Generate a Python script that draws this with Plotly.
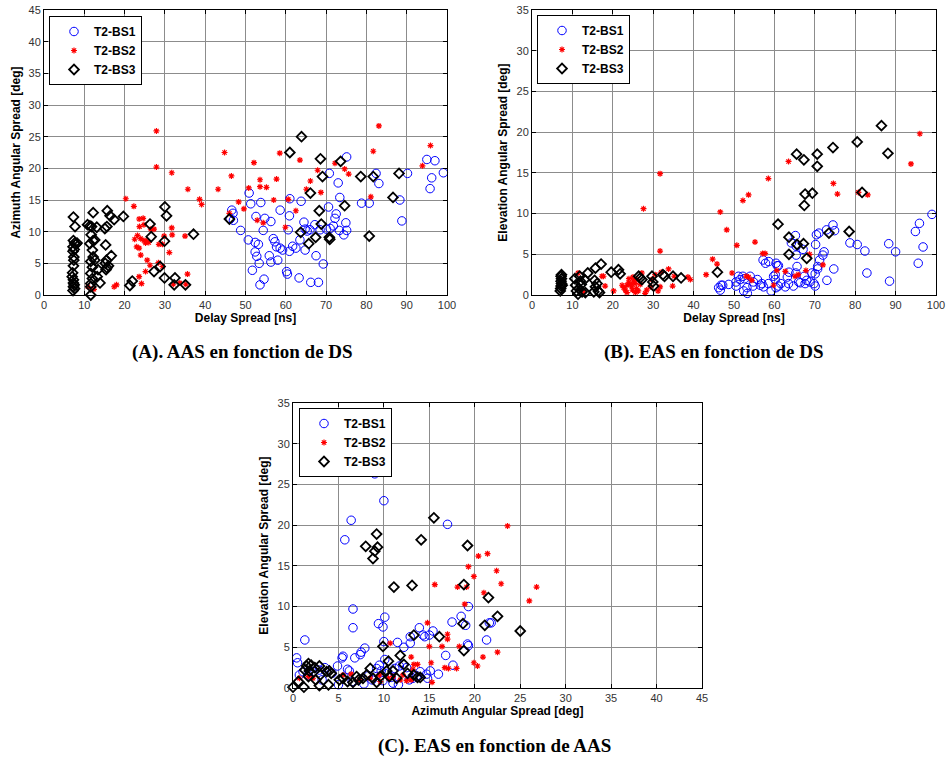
import plotly.graph_objects as go

# ---------------- data ----------------
# Panel A: Delay Spread [ns] vs Azimuth Angular Spread [deg]
a_bs1_ds = [46.2, 46.6, 46.9, 47.0, 48.8, 50.9, 51.3, 53.8, 52.6, 54.8, 56.3, 54.4, 50.7, 52.4, 53.2, 52.4,
            52.8, 53.4, 51.7, 54.6, 53.6, 56.9, 57.3, 57.7, 58.6, 59.2, 55.9, 56.3, 58.0, 58.6, 61.0, 60.9,
            60.6, 60.9, 60.2, 60.4, 61.7, 62.5, 63.5, 63.8, 63.3, 64.5, 64.8, 66.0, 67.2, 68.5, 70.1, 71.0,
            71.8, 72.2, 72.5, 70.6, 70.8, 73.0, 73.4, 75.1, 74.9, 75.1, 74.4, 73.3, 67.5, 66.2, 68.1, 69.3,
            64.8, 65.3, 78.8, 80.7, 82.4, 83.1, 88.3, 88.8, 90.2, 95.0, 97.0, 96.2, 95.8, 99.1]
a_bs1_aas = [12.0, 13.4, 12.9, 11.8, 10.2, 16.1, 14.4, 14.6, 12.4, 12.1, 11.6, 10.2, 8.7, 8.3, 8.0, 6.8,
             6.1, 5.0, 3.9, 2.5, 1.6, 8.9, 8.4, 7.6, 7.4, 7.1, 6.2, 5.2, 5.5, 13.4, 15.2, 12.5,
             10.3, 6.9, 3.7, 3.3, 7.7, 7.4, 8.7, 14.8, 2.7, 11.5, 10.4, 10.3, 11.1, 10.3, 10.4, 10.5,
             10.9, 12.1, 12.8, 13.9, 19.2, 17.7, 15.4, 21.8, 11.4, 10.2, 9.5, 10.2, 6.2, 2.0, 2.0, 4.9,
             7.1, 10.1, 14.5, 14.5, 19.2, 17.6, 15.0, 11.7, 19.2, 21.4, 21.2, 18.5, 16.8, 19.3]

a_bs2_ds = [27.9, 27.9, 31.7, 35.7, 38.6, 39.1, 43.2, 44.8, 46.5, 20.3, 22.3, 23.6, 24.6, 23.7, 24.8, 26.5,
            27.3, 23.2, 22.5, 24.0, 24.8, 25.4, 26.0, 25.2, 28.5, 29.4, 29.8, 31.7, 31.8, 35.0, 23.0, 23.6,
            24.0, 31.1, 25.6, 26.3, 28.4, 25.2, 23.6, 24.2, 29.4, 35.6, 32.1, 33.7, 35.2, 10.9, 12.4, 17.4,
            18.0, 46.0, 48.3, 49.6, 50.8, 52.1, 53.6, 53.6, 55.2, 52.9, 54.4, 57.0, 57.7, 58.5, 59.9, 60.6,
            62.5, 63.5, 65.1, 66.1, 67.9, 68.7, 72.2, 74.6, 75.6, 81.1, 81.7, 83.1, 93.9, 95.9]
a_bs2_aas = [25.9, 20.2, 19.3, 16.7, 15.1, 14.3, 16.7, 22.5, 18.8, 15.2, 14.0, 12.0, 12.1, 10.8, 11.1, 10.4,
             10.4, 9.4, 8.8, 8.9, 8.6, 8.5, 8.3, 8.2, 8.0, 8.0, 9.3, 10.6, 9.5, 9.3, 7.6, 7.4,
             6.3, 6.7, 5.5, 4.7, 5.1, 3.7, 2.9, 1.8, 4.5, 3.3, 1.7, 1.9, 1.7, 1.3, 0.9, 1.3,
             1.6, 12.9, 14.7, 13.6, 16.9, 20.9, 18.2, 17.1, 17.0, 11.8, 11.4, 15.0, 18.3, 22.4, 10.7, 15.1,
             13.3, 21.3, 16.7, 18.0, 19.7, 16.2, 20.8, 19.9, 19.1, 15.5, 22.7, 26.7, 20.4, 23.6]

a_bs3_ds = [7.3, 7.7, 7.3, 7.6, 7.9, 8.2, 7.2, 7.5, 7.2, 7.4, 7.3, 7.0, 7.3, 7.3, 7.5, 7.3, 7.6, 7.2, 7.4, 7.1,
            10.8, 12.2, 11.8, 13.1, 11.7, 12.2, 12.6, 11.4, 12.0, 12.2, 11.6, 12.0, 13.4, 11.6, 13.2, 12.0,
            13.9, 11.6, 11.6, 11.6, 11.4, 12.6, 15.7, 16.4, 17.4, 15.6, 15.1, 15.3, 16.7, 15.5, 15.2, 15.6,
            16.0, 15.4, 19.7, 21.3, 21.9, 26.3, 26.6, 27.3, 28.8, 30.0, 30.4, 29.9, 29.9, 32.5, 32.3, 35.1,
            37.1, 46.0, 61.0, 63.9, 66.1, 68.3, 68.6, 69.1, 68.8, 63.7, 65.7, 67.4, 70.8, 70.9, 73.6, 74.6,
            78.6, 81.7, 80.7, 86.6, 88.1]
a_bs3_aas = [12.3, 10.8, 8.6, 8.2, 8.0, 8.2, 7.6, 7.2, 6.9, 6.0, 4.6, 2.9, 2.4, 1.9, 1.6, 1.3, 1.0, 0.7, 5.5, 3.5,
             11.1, 13.0, 10.8, 10.7, 9.5, 8.6, 8.7, 8.1, 7.1, 6.0, 5.3, 4.4, 4.0, 3.4, 2.9, 2.6,
             1.9, 1.8, 1.3, 0.0, 10.9, 5.5, 13.3, 12.5, 11.9, 10.8, 10.5, 7.9, 6.2, 5.5, 5.0, 4.3,
             4.6, 4.0, 12.4, 1.5, 2.2, 11.2, 9.2, 3.7, 4.5, 13.9, 12.5, 8.5, 2.7, 2.7, 1.6, 1.6,
             9.6, 12.0, 22.5, 25.0, 16.1, 13.3, 21.5, 18.7, 11.2, 9.9, 8.1, 9.1, 9.1, 8.8, 21.1, 14.1,
             18.7, 18.7, 9.3, 15.4, 19.2]

# Panel B: Delay Spread [ns] vs Elevation Angular Spread [deg]
b_bs1_ds = [99.0, 95.9, 94.9, 96.8, 95.6, 90.0, 88.3, 88.5, 82.4, 82.9, 80.5, 78.7, 74.5, 74.9, 72.9, 71.0,
            70.4, 70.2, 72.0, 72.3, 71.2, 74.7, 73.0, 65.2, 64.2, 65.4, 67.1, 65.4, 65.6, 60.7, 57.2, 57.8,
            58.6, 63.6, 70.7, 69.3, 46.2, 46.6, 46.8, 47.2, 48.7, 50.5, 51.1, 51.5, 52.2, 52.6, 50.5, 52.4,
            53.2, 53.3, 54.0, 54.7, 54.8, 55.8, 56.5, 56.9, 57.3, 58.5, 59.2, 59.8, 60.2, 60.4, 61.0, 61.6,
            62.7, 63.2, 63.5, 64.7, 65.3, 66.0, 66.4, 67.4, 67.6, 68.0, 68.8, 69.8, 70.1, 70.1, 70.7, 60.4,
            61.0, 60.2]
b_bs1_eas = [9.9, 8.8, 7.8, 5.9, 3.9, 5.3, 6.3, 1.7, 5.4, 2.7, 6.2, 6.4, 8.6, 7.9, 8.0, 7.6,
             7.4, 6.2, 4.9, 5.3, 4.3, 3.2, 1.8, 7.3, 6.4, 6.0, 5.6, 4.9, 3.5, 3.6, 4.3, 3.9,
             4.1, 2.8, 3.5, 2.7, 0.9, 0.6, 1.2, 1.2, 1.3, 1.6, 2.3, 1.9, 2.3, 2.0, 1.1, 0.5,
             0.9, 0.2, 2.3, 1.1, 1.6, 1.9, 1.2, 1.4, 1.0, 1.4, 0.5, 2.3, 1.9, 0.9, 1.1, 1.4,
             1.0, 2.2, 1.4, 1.1, 2.7, 1.6, 1.5, 2.3, 1.4, 1.8, 1.6, 1.4, 1.1, 2.6, 3.2, 3.9,
             3.6, 2.5]

b_bs2_ds = [11.4, 12.8, 17.3, 17.7, 18.1, 20.2, 27.6, 31.7, 31.7, 33.8, 34.8, 35.2, 38.6, 39.2, 43.1, 44.7,
            45.8, 46.6, 48.2, 49.5, 50.7, 52.2, 53.6, 53.0, 53.6, 55.2, 54.4, 57.1, 57.7, 58.5, 59.8, 60.6,
            62.7, 63.5, 65.1, 65.9, 67.8, 68.7, 72.0, 74.6, 75.6, 80.8, 83.1, 93.8, 96.0,
            22.3, 22.7, 23.1, 23.5, 23.9, 24.3, 24.7, 25.1, 25.5, 25.9, 26.3, 23.5, 24.9, 25.6, 26.8, 27.2,
            28.4, 28.0, 29.7, 29.3, 31.7, 31.2, 30.5, 32.0, 24.0, 25.0, 26.0]
b_bs2_eas = [2.7, 0.4, 2.3, 2.3, 1.1, 0.5, 10.6, 14.9, 5.4, 3.2, 1.1, 2.3, 2.2, 1.9, 2.5, 4.4,
             3.8, 10.2, 8.0, 2.7, 6.1, 11.6, 12.3, 2.3, 2.2, 6.5, 1.8, 5.1, 5.1, 14.3, 1.2, 3.0,
             2.9, 16.4, 2.3, 2.5, 3.0, 5.0, 3.7, 13.7, 12.4, 12.6, 12.3, 16.1, 19.8,
             1.2, 0.9, 0.6, 1.2, 1.5, 1.3, 1.0, 1.7, 1.4, 0.8, 0.5, 0.3, 0.6, 0.3, 1.3, 2.7,
             0.6, 0.2, 1.9, 1.0, 1.0, 0.5, 2.5, 2.8, 2.0, 2.2, 1.9]

b_bs3_ds = [7.0, 7.1, 7.2, 7.3, 7.2, 7.3, 7.2, 7.3, 7.5, 10.6, 10.8, 11.0, 11.4, 11.6, 12.0, 12.2, 11.8, 12.4,
            13.0, 13.2, 13.8, 15.7, 17.1, 15.5, 15.7, 16.1, 16.4, 16.7, 15.3, 19.6, 21.4, 21.8, 26.4, 27.2,
            26.8, 29.7, 29.9, 30.1, 32.4, 32.8, 34.9, 36.9, 45.9, 60.9, 63.6, 65.6, 67.2, 63.6, 68.0, 65.5,
            67.3, 70.6, 70.6, 74.5, 67.6, 69.4, 67.4, 73.5, 78.5, 80.5, 81.7, 86.5, 88.1]
b_bs3_eas = [0.5, 0.8, 1.1, 1.4, 1.7, 2.0, 2.3, 2.5, 1.2, 2.0, 1.2, 0.5, 0.1, 0.8, 1.7, 1.3, 2.3, 0.4,
             1.9, 0.3, 2.7, 3.3, 3.8, 1.8, 1.0, 1.4, 0.5, 0.3, 0.4, 2.8, 3.1, 2.6, 2.3, 1.9,
             2.1, 2.3, 1.6, 1.1, 2.5, 2.3, 2.3, 2.1, 2.8, 8.7, 7.1, 6.2, 6.3, 5.0, 4.5, 17.3,
             16.6, 17.3, 15.8, 18.1, 12.4, 12.5, 11.0, 7.6, 7.8, 18.8, 12.6, 20.8, 17.4]

# Panel C: Azimuth Angular Spread [deg] vs Elevation Angular Spread [deg]
c_bs1_aas = [9.0, 10.0, 6.4, 5.7, 17.0, 6.6, 6.6, 9.4, 9.9, 10.1, 10.0, 1.3, 11.5, 12.2, 12.9, 12.9,
             13.9, 14.3, 14.5, 15.4, 15.0, 17.5, 18.5, 19.0, 19.3, 19.2, 19.3, 21.6, 21.8, 21.3, 16.8, 17.6,
             16.0, 0.4, 0.5, 4.9, 5.4, 5.5, 6.0, 6.2, 6.8, 7.4, 7.5, 7.9, 9.2, 9.5, 9.7, 10.1,
             11.2, 11.7, 12.1, 12.5, 13.2, 13.6, 14.0, 14.7, 15.1, 0.7, 1.1, 1.7, 2.2, 2.9, 3.5, 5.0,
             11.0, 11.6, 8.3, 8.7, 10.4, 12.8, 14.8, 3.2, 4.3, 6.5, 7.8, 9.9, 10.8]
c_bs1_eas = [26.3, 23.0, 20.6, 18.2, 20.1, 9.7, 7.4, 7.9, 7.5, 8.7, 5.7, 5.9, 5.6, 5.0, 6.3, 5.5,
             7.4, 6.5, 6.3, 7.0, 6.5, 8.1, 8.8, 7.7, 10.0, 5.4, 5.2, 8.0, 8.0, 5.9, 4.0, 2.8,
             1.7, 3.7, 3.1, 2.7, 3.7, 3.9, 2.3, 2.1, 3.7, 4.1, 4.4, 4.9, 2.4, 2.8, 2.1, 3.5,
             2.4, 2.7, 2.9, 2.5, 1.2, 1.5, 2.0, 1.7, 2.1, 1.6, 2.0, 1.6, 2.0, 2.2, 2.5, 0.4,
             0.6, 0.4, 1.5, 1.0, 1.8, 1.0, 1.2, 1.0, 1.8, 0.8, 0.5, 0.9, 1.3]

c_bs2_aas = [23.6, 20.4, 21.4, 19.3, 22.4, 19.9, 15.6, 18.1, 19.1, 22.9, 26.8, 21.0, 26.0, 18.9, 14.8, 10.7,
             15.0, 16.4, 18.3, 17.0, 17.0, 13.0, 13.3, 13.7, 15.2, 16.7, 17.1, 18.0, 19.9, 20.3, 20.9, 22.5,
             15.3, 13.2, 1.7, 2.2, 0.7, 5.5, 6.4, 7.3, 8.5, 9.6, 10.5, 9.5, 11.0, 11.8, 12.1, 12.5, 13.0]
c_bs2_eas = [19.9, 16.2, 16.5, 14.9, 14.4, 13.7, 12.7, 12.4, 12.4, 12.8, 12.4, 11.7, 10.7, 10.3, 8.0, 5.5,
             5.1, 5.1, 5.1, 6.6, 6.0, 3.8, 2.9, 2.9, 3.1, 2.5, 2.4, 2.4, 3.1, 2.7, 3.8, 4.4,
             0.7, 2.3, 1.4, 1.2, 1.2, 1.6, 1.7, 1.0, 1.2, 0.8, 1.2, 1.6, 1.4, 1.0, 1.6, 0.9, 1.0]

c_bs3_aas = [15.5, 9.2, 8.0, 9.3, 9.0, 8.8, 14.1, 19.2, 11.1, 13.1, 18.8, 21.5, 22.5, 21.1, 18.7, 18.8,
             25.0, 16.1, 13.3, 9.9, 11.8, 10.5, 8.5, 0.0, 1.2, 0.6, 2.9, 3.9, 1.7, 1.5, 2.0, 2.4,
             2.9, 1.3, 1.8, 1.7, 4.0, 4.2, 3.7, 5.1, 5.5, 6.0, 6.6, 7.2, 7.0, 7.7, 8.1, 8.8,
             9.2, 9.6, 10.3, 10.6, 11.0, 11.4, 12.2, 12.6, 13.3, 13.7, 14.0, 2.5, 3.0]
c_bs3_eas = [20.9, 18.9, 17.4, 17.3, 16.8, 15.9, 18.2, 17.5, 12.4, 12.6, 12.7, 11.1, 8.8, 7.7, 7.9, 4.6,
             7.0, 6.3, 6.5, 5.1, 4.0, 3.3, 2.4, 0.1, 0.1, 0.8, 0.3, 0.4, 3.0, 2.7, 2.8, 2.5,
             2.7, 2.2, 2.1, 1.4, 2.1, 1.8, 2.0, 1.0, 1.2, 0.8, 0.7, 1.0, 1.4, 1.2, 1.6, 1.2,
             0.7, 1.4, 2.1, 1.4, 2.1, 1.2, 2.9, 1.8, 1.6, 1.3, 1.3, 1.0, 1.6]

series_names = ["T2-BS1", "T2-BS2", "T2-BS3"]
captions = ["(A). AAS en fonction de DS", "(B). EAS en fonction de DS", "(C). EAS en fonction de AAS"]

# ---------------- figure ----------------
W, H = 946, 760
def px_x(p): return p / W
def px_y(p): return 1 - p / H

styles = [
    dict(symbol="circle-open", size=8.5, color="#0000FF", line=dict(width=1, color="#0000FF")),
    dict(symbol="asterisk-open", size=5, color="#FF0000", line=dict(width=1.2, color="#FF0000")),
    dict(symbol="diamond-open", size=7.5, color="#000000", line=dict(width=1.8, color="#000000")),
]

panels = [
    ("x", "y", "legend", [(a_bs1_ds, a_bs1_aas), (a_bs2_ds, a_bs2_aas), (a_bs3_ds, a_bs3_aas)]),
    ("x2", "y2", "legend2", [(b_bs1_ds, b_bs1_eas), (b_bs2_ds, b_bs2_eas), (b_bs3_ds, b_bs3_eas)]),
    ("x3", "y3", "legend3", [(c_bs1_aas, c_bs1_eas), (c_bs2_aas, c_bs2_eas), (c_bs3_aas, c_bs3_eas)]),
]

fig = go.Figure()
for xa, ya, lg, data in panels:
    for (xs, ys), name, st in zip(data, series_names, styles):
        fig.add_trace(go.Scatter(
            x=xs, y=ys, mode="markers", name=name, xaxis=xa, yaxis=ya, legend=lg,
            marker=st, cliponaxis=False, showlegend=True))

tickfont = dict(family="Arial, Liberation Sans, sans-serif", size=11, color="#333333")
titlefont = dict(family="Arial, Liberation Sans, sans-serif", size=12, color="#000000", weight="bold")

def axis(domain, rng, dtick, title, anchor, standoff):
    return dict(domain=domain, range=rng, dtick=dtick, tick0=0, anchor=anchor, automargin=False,
                showgrid=True, gridcolor="#8c8c8c", gridwidth=1, zeroline=False,
                showline=True, linecolor="#000000", linewidth=1, mirror="ticks",
                ticks="inside", ticklen=4, tickcolor="#000000", tickfont=tickfont,
                title=dict(text=title, font=titlefont, standoff=standoff), fixedrange=True)

fig.update_layout(
    width=W, height=H, autosize=False,
    margin=dict(l=0, r=0, t=0, b=0, autoexpand=False),
    paper_bgcolor="white", plot_bgcolor="white",
    xaxis=axis([px_x(44), px_x(447)], [0, 100], 10, "Delay Spread [ns]", "y", 2),
    yaxis=axis([px_y(295), px_y(10)], [0, 45], 5, "Azimuth Angular Spread [deg]", "x", 5),
    xaxis2=axis([px_x(532), px_x(936)], [0, 100], 10, "Delay Spread [ns]", "y2", 2),
    yaxis2=axis([px_y(295), px_y(10)], [0, 35], 5, "Elevation Angular Spread [deg]", "x2", 6),
    xaxis3=axis([px_x(293), px_x(702)], [0, 45], 5, "Azimuth Angular Spread [deg]", "y3", 2),
    yaxis3=axis([px_y(688), px_y(403)], [0, 35], 5, "Elevation Angular Spread [deg]", "x3", 6),
    showlegend=True,
)

legfont = dict(family="Arial, Liberation Sans, sans-serif", size=12, color="#000000", weight="bold")
for key, (lx, ly) in zip(["legend", "legend2", "legend3"], [(49, 16), (537, 15), (299, 408)]):
    fig.update_layout({key: dict(x=px_x(lx), y=px_y(ly), xanchor="left", yanchor="top",
                                 bgcolor="white", bordercolor="#000000", borderwidth=1,
                                 font=legfont, itemsizing="trace", tracegroupgap=0,
                                 indentation=4)})

capfont = dict(family="Times New Roman, Liberation Serif, serif", size=19, color="#000000", weight="bold")
for text, (cx, cy) in zip(captions, [(242, 352), (714, 352), (494, 746)]):
    fig.add_annotation(text=text, x=px_x(cx), y=px_y(cy), xref="paper", yref="paper",
                       showarrow=False, font=capfont, xanchor="center", yanchor="middle")

fig.write_html("out.html", config={"displayModeBar": False},
               post_script="document.body.style.margin='0';document.body.style.overflow='hidden';")
